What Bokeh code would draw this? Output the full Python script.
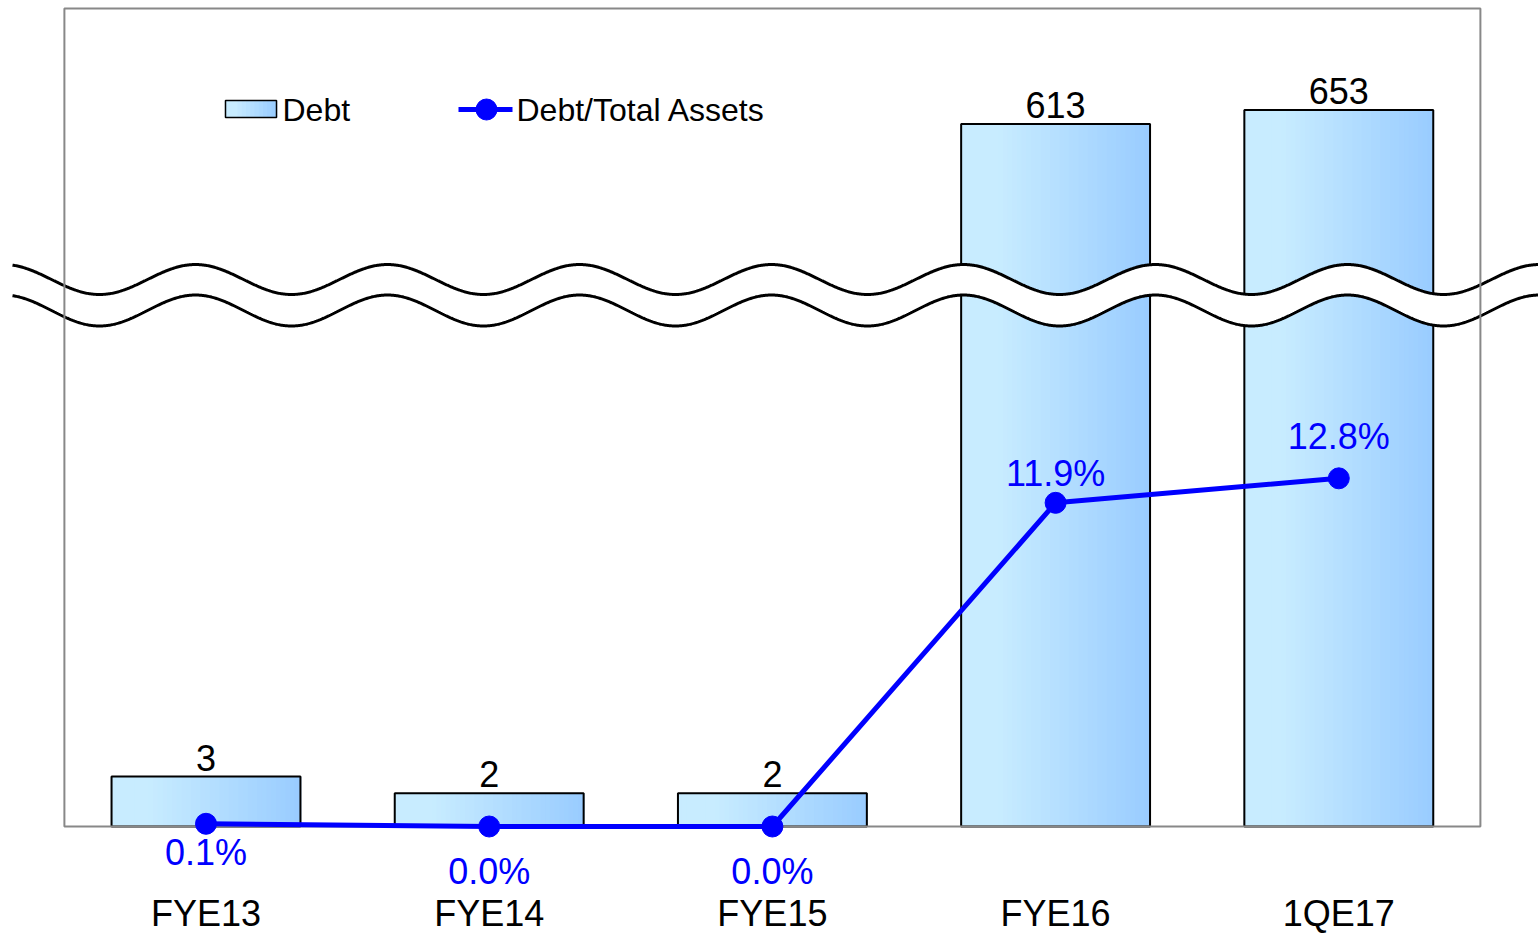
import numpy as np
from bokeh.plotting import figure
from bokeh.models import Range1d
from bokeh.core.properties import value
from bokeh.embed import file_html
from bokeh.resources import INLINE

# ---- data -----------------------------------------------------------------
categories = ["FYE13", "FYE14", "FYE15", "FYE16", "1QE17"]
debt = [3, 2, 2, 613, 653]
debt_to_assets_pct = [0.1, 0.0, 0.0, 11.9, 12.8]

# ---- layout (pixels) -----------------------------------------------------
W, H = 1538, 936
X0_PX = 205.5        # centre of the first category
STEP_PX = 283.2      # width of one category slot
BASE_PX = 826        # baseline (zero) of both value axes
TOP_PX = 8           # top edge of the plot box
PCT_PX = 27.2        # pixels per percentage point on the ratio axis
BAR_W = 0.667

# broken value axis: a low segment 0..LOW_MAX and a compressed high segment
LOW_MAX = 31.0
BREAK_AT = 516.0     # height (px) of the break above the baseline
HIGH_MIN = 80.0
HIGH_PX_PER = 0.35


def debt_axis(v):
    if v <= LOW_MAX:
        return v * BREAK_AT / LOW_MAX
    return BREAK_AT + (v - HIGH_MIN) * HIGH_PX_PER


def px_x(px):
    return (px - X0_PX) / STEP_PX


def px_y(py):
    return BASE_PX - py


FONT = value("Liberation Sans")
BLUE = "#0000FF"

p = figure(width=W, height=H, output_backend="svg", toolbar_location=None,
           x_range=Range1d(px_x(0), px_x(W)),
           y_range=Range1d(px_y(H), px_y(0)),
           x_axis_location=None, y_axis_location=None,
           min_border=0, border_fill_color="white",
           background_fill_color="white", outline_line_color=None)
p.xgrid.visible = False
p.ygrid.visible = False
p.extra_y_ranges = {"pct": Range1d(px_y(H) / PCT_PX, px_y(0) / PCT_PX)}

xs = list(range(len(categories)))
bar_tops = [debt_axis(v) for v in debt]

# ---- gradient bars (vertical strips, light left -> darker right) ---------
LIGHT = np.array([200, 236, 255])
DARK = np.array([153, 204, 255])


def grad_color(t):
    t = max(0.0, (t - 0.2) / 0.8)
    c = LIGHT + (DARK - LIGHT) * t
    return "#%02x%02x%02x" % tuple(int(round(k)) for k in c)


N = 40
sx, stop, sw, sc = [], [], [], []
for i, top in zip(xs, bar_tops):
    for j in range(N):
        t = (j + 0.5) / N
        sx.append(i - BAR_W / 2 + t * BAR_W)
        stop.append(top)
        sw.append(BAR_W / N * 1.35)
        sc.append(grad_color(t))
p.vbar(x=sx, top=stop, bottom=0, width=sw, fill_color=sc, line_color=None)
p.vbar(x=xs, top=bar_tops, bottom=0, width=BAR_W, fill_color=None,
       line_color="black", line_width=2)

# ---- axis break: white band between two wavy lines -----------------------
wpx = np.arange(12, W + 1, 1.0)
phase = 2 * np.pi * (wpx - 195) / 192
wave_top = 279 - 15 * np.cos(phase)
wave_bot = 310 - 15.5 * np.cos(phase)
wx = px_x(wpx)
p.varea(x=wx, y1=px_y(wave_bot), y2=px_y(wave_top), fill_color="white")
p.line(wx, px_y(wave_top), line_color="black", line_width=3)
p.line(wx, px_y(wave_bot), line_color="black", line_width=3)

# ---- plot box ------------------------------------------------------------
p.quad(left=[-0.5], right=[len(categories) - 0.5], bottom=[0],
       top=[px_y(TOP_PX)], fill_color=None, line_color="#888888",
       line_width=2)

# ---- debt / total assets line -------------------------------------------
p.line(xs, debt_to_assets_pct, y_range_name="pct", line_color=BLUE,
       line_width=5)
p.scatter(xs, debt_to_assets_pct, y_range_name="pct", size=21,
          marker="circle", fill_color=BLUE, line_color=BLUE)

# ---- labels (y is the vertical centre of the text) -----------------------
p.text(x=xs, y=[t + 19 for t in bar_tops], text=[str(v) for v in debt],
       text_font=FONT, text_font_size="36px", text_color="black",
       text_align="center", text_baseline="middle")

pct_shift = [-29, -45, -45, 29, 42]   # label offset from its point (px)
p.text(x=xs, y=[v * PCT_PX + d for v, d in zip(debt_to_assets_pct, pct_shift)],
       text=["%.1f%%" % v for v in debt_to_assets_pct],
       text_font=FONT, text_font_size="36px", text_color=BLUE,
       text_align="center", text_baseline="middle")

p.text(x=xs, y=[px_y(913)] * len(xs), text=categories,
       text_font=FONT, text_font_size="36px", text_color="black",
       text_align="center", text_baseline="middle")

# ---- legend --------------------------------------------------------------
LN = 12
lx0, lx1 = px_x(225), px_x(276)
lw = (lx1 - lx0) / LN
p.vbar(x=[lx0 + (k + 0.5) * lw for k in range(LN)],
       top=px_y(100), bottom=px_y(117), width=lw * 1.35,
       fill_color=[grad_color((k + 0.5) / LN) for k in range(LN)],
       line_color=None)
p.quad(left=[lx0], right=[lx1], bottom=[px_y(117)], top=[px_y(100)],
       fill_color=None, line_color="black", line_width=1.5)
p.text(x=[px_x(282)], y=[px_y(109)], text=["Debt"], text_font=FONT,
       text_font_size="32px", text_color="black", text_align="left",
       text_baseline="middle")
p.line([px_x(458), px_x(512)], [px_y(109)] * 2, line_color=BLUE,
       line_width=5)
p.scatter([px_x(486)], [px_y(109)], size=21, marker="circle",
          fill_color=BLUE, line_color=BLUE)
p.text(x=[px_x(516)], y=[px_y(109)], text=["Debt/Total Assets"],
       text_font=FONT, text_font_size="32px", text_color="black",
       text_align="left", text_baseline="middle")

open("out.html", "w").write(file_html(p, INLINE))
